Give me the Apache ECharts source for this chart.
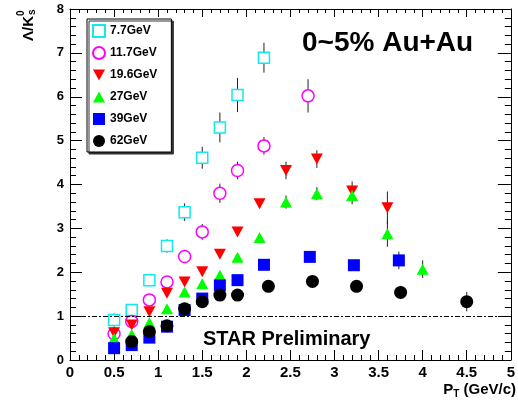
<!DOCTYPE html>
<html lang="en">
<head>
  <meta charset="UTF-8">
  <title>Lambda/K0s ratio</title>
  <script src="https://cdn.jsdelivr.net/npm/echarts@6/dist/echarts.min.js"></script>
</head>
<body style="margin:0">
<div id="main" style="width:518px;height:403px;"></div>
<script type="text/javascript">
    // data (pT, ratio, error)
    var x77 = [0.5, 0.7, 0.9, 1.1, 1.3, 1.5, 1.7, 1.9, 2.2];
    var y77 = [0.91, 1.14, 1.82, 2.60, 3.37, 4.61, 5.30, 6.04, 6.89];
    var e77 = [0.15, 0.10, 0.12, 0.15, 0.20, 0.25, 0.34, 0.39, 0.34];

    var x117 = [0.5, 0.7, 0.9, 1.1, 1.3, 1.5, 1.7, 1.9, 2.2, 2.7];
    var y117 = [0.60, 0.88, 1.37, 1.78, 2.36, 2.92, 3.80, 4.32, 4.88, 6.02];
    var e117 = [0.08, 0.08, 0.10, 0.10, 0.15, 0.18, 0.22, 0.20, 0.20, 0.38];

    var x196 = [0.5, 0.7, 0.9, 1.1, 1.3, 1.5, 1.7, 1.9, 2.15, 2.45, 2.8, 3.2, 3.6];
    var y196 = [0.62, 0.80, 1.10, 1.52, 1.78, 2.01, 2.41, 2.92, 3.56, 4.32, 4.58, 3.85, 3.47];
    var e196 = [0.04, 0.04, 0.05, 0.05, 0.06, 0.06, 0.07, 0.08, 0.10, 0.20, 0.20, 0.22, 0.37];

    var x27 = [0.5, 0.7, 0.9, 1.1, 1.3, 1.5, 1.7, 1.9, 2.15, 2.45, 2.8, 3.2, 3.6, 4.0];
    var y27 = [0.49, 0.58, 0.85, 1.17, 1.55, 1.74, 1.93, 2.34, 2.79, 3.60, 3.79, 3.75, 2.88, 2.07];
    var e27 = [0.03, 0.03, 0.04, 0.04, 0.05, 0.05, 0.06, 0.07, 0.08, 0.15, 0.15, 0.20, 0.30, 0.20];

    var x39 = [0.5, 0.7, 0.9, 1.1, 1.3, 1.5, 1.7, 1.9, 2.2, 2.72, 3.22, 3.73];
    var y39 = [0.27, 0.34, 0.51, 0.76, 1.14, 1.40, 1.70, 1.82, 2.17, 2.35, 2.16, 2.27];
    var e39 = [0.02, 0.02, 0.03, 0.03, 0.04, 0.04, 0.05, 0.05, 0.06, 0.08, 0.10, 0.20];

    var x62 = [0.7, 0.9, 1.1, 1.3, 1.5, 1.7, 1.9, 2.25, 2.75, 3.25, 3.75, 4.5];
    var y62 = [0.42, 0.65, 0.78, 1.17, 1.33, 1.48, 1.48, 1.68, 1.79, 1.68, 1.54, 1.33];
    var e62 = [0.02, 0.02, 0.03, 0.03, 0.04, 0.04, 0.05, 0.06, 0.08, 0.10, 0.15, 0.22];

    var names = ['7.7GeV', '11.7GeV', '19.6GeV', '27GeV', '39GeV', '62GeV'];
    var xTicks = ['0', '0.5', '1', '1.5', '2', '2.5', '3', '3.5', '4', '4.5', '5'];

    var myChart = echarts.init(document.getElementById('main'));

    function pts(xs, ys) {
        return xs.map(function (x, i) { return [x, ys[i]]; });
    }
    function bars(xs, ys, es) {
        return xs.map(function (x, i) { return [x, ys[i] - es[i], ys[i] + es[i]]; });
    }

    var errData = [].concat(
        bars(x77, y77, e77), bars(x117, y117, e117), bars(x196, y196, e196),
        bars(x27, y27, e27), bars(x39, y39, e39), bars(x62, y62, e62)
    );

    var font = 'Liberation Sans, Arial, sans-serif';

    function yAx(pos, showLabel, major, minor) {
        return {
            type: 'value', position: pos, min: 0, max: 8, interval: 1,
            axisLine: {show: true, onZero: false, lineStyle: {color: '#000', width: 1}},
            axisTick: {show: true, inside: true, length: major, lineStyle: {color: '#000', width: 1}},
            minorTick: {show: true, splitNumber: 5, length: minor, lineStyle: {color: '#000', width: 1}},
            axisLabel: {show: showLabel, color: '#000', fontWeight: 'bold', fontSize: 13, fontFamily: font, margin: 6},
            splitLine: {show: false},
            minorSplitLine: {show: false}
        };
    }
    function xAx(pos, showLabel, major, minor) {
        return {
            type: 'value', position: pos, min: 0, max: 5, interval: 0.5,
            axisLine: {show: true, onZero: false, lineStyle: {color: '#000', width: 1}},
            axisTick: {show: true, inside: true, length: major, lineStyle: {color: '#000', width: 1}},
            minorTick: {show: true, splitNumber: 5, length: minor, lineStyle: {color: '#000', width: 1}},
            axisLabel: {
                show: showLabel, color: '#000', fontWeight: 'bold', fontSize: 15, fontFamily: font, margin: 5,
                formatter: function (v) { return xTicks[Math.round(v * 2)]; }
            },
            splitLine: {show: false},
            minorSplitLine: {show: false}
        };
    }

    var option = {
        animation: false,
        grid: {left: 70, right: 2, top: 9, bottom: 43},
        xAxis: [xAx('bottom', true, 10, 5), xAx('top', false, 8, 4)],
        yAxis: [yAx('left', true, 12, 6), yAx('right', false, 13, 6)],
        legend: {
            data: names,
            orient: 'vertical',
            left: 87, top: 19,
            padding: [5, 14, 4, 5],
            itemGap: 8,
            itemWidth: 12, itemHeight: 12,
            borderColor: '#000', borderWidth: 1,
            backgroundColor: '#fff',
            shadowColor: '#333', shadowBlur: 0, shadowOffsetX: 2, shadowOffsetY: 2,
            textStyle: {color: '#000', fontWeight: 'bold', fontSize: 12, fontFamily: font, lineHeight: 14}
        },
        graphic: [
            {type: 'text', x: 302, y: 43, style: {text: '0~5% Au+Au', fontSize: 28, fontWeight: 'bold', fontFamily: font, fill: '#000', align: 'left', verticalAlign: 'middle'}},
            {type: 'text', x: 203, y: 339, style: {text: 'STAR Preliminary', fontSize: 20, fontWeight: 'bold', fontFamily: font, fill: '#000', align: 'left', verticalAlign: 'middle'}},
            {type: 'text', x: 516, y: 390, style: {
                text: '{a|P}{b|T}{a| (GeV/c)}', align: 'right', verticalAlign: 'middle', fill: '#000',
                rich: {
                    a: {fontSize: 15, fontWeight: 'bold', fontFamily: font},
                    b: {fontSize: 10, fontWeight: 'bold', fontFamily: font, padding: [8, 0, 0, 0]}
                }
            }},
            // y axis title, rotated
            {type: 'text', x: 36, y: 41, rotation: Math.PI / 2, style: {text: 'Λ/K', fontSize: 15, fontWeight: 'bold', fontFamily: font, fill: '#000', align: 'left', verticalAlign: 'bottom'}},
            {type: 'text', x: 26, y: 16, rotation: Math.PI / 2, style: {text: '0', fontSize: 10, fontWeight: 'bold', fontFamily: font, fill: '#000', align: 'left', verticalAlign: 'bottom'}},
            {type: 'text', x: 37, y: 15, rotation: Math.PI / 2, style: {text: 's', fontSize: 10, fontWeight: 'bold', fontFamily: font, fill: '#000', align: 'left', verticalAlign: 'bottom'}}
        ],
        series: [
            {
                name: 'errors', type: 'custom', z: 1,
                renderItem: function (params, api) {
                    var lo = api.coord([api.value(0), api.value(1)]);
                    var hi = api.coord([api.value(0), api.value(2)]);
                    return {
                        type: 'line',
                        shape: {x1: lo[0], y1: lo[1], x2: hi[0], y2: hi[1]},
                        style: {stroke: '#222', lineWidth: 1}
                    };
                },
                encode: {x: 0, y: [1, 2]},
                data: errData,
                markLine: {
                    silent: true, symbol: ['none', 'none'],
                    label: {show: false},
                    lineStyle: {color: '#000', type: [5, 2, 2, 2], width: 1},
                    data: [{yAxis: 1}]
                }
            },
            {name: names[0], type: 'scatter', z: 3, symbol: 'rect', symbolSize: 11,
                itemStyle: {color: '#fff', borderColor: '#11e8f0', borderWidth: 1.5, opacity: 1},
                data: pts(x77, y77)},
            {name: names[1], type: 'scatter', z: 3, symbol: 'circle', symbolSize: 12,
                itemStyle: {color: '#fff', borderColor: '#ff00ff', borderWidth: 1.5, opacity: 1},
                data: pts(x117, y117)},
            {name: names[2], type: 'scatter', z: 3, symbol: 'path://M0,0L10,0L5,9Z', symbolSize: [12, 11],
                itemStyle: {color: '#ff0000', opacity: 1},
                data: pts(x196, y196)},
            {name: names[3], type: 'scatter', z: 3, symbol: 'path://M5,0L10,9L0,9Z', symbolSize: [12, 11],
                itemStyle: {color: '#00ff00', opacity: 1},
                data: pts(x27, y27)},
            {name: names[4], type: 'scatter', z: 3, symbol: 'rect', symbolSize: 12,
                itemStyle: {color: '#0000ff', opacity: 1},
                data: pts(x39, y39)},
            {name: names[5], type: 'scatter', z: 3, symbol: 'circle', symbolSize: 13,
                itemStyle: {color: '#000', opacity: 1},
                data: pts(x62, y62)}
        ]
    };

    myChart.setOption(option);
</script>
</body>
</html>
